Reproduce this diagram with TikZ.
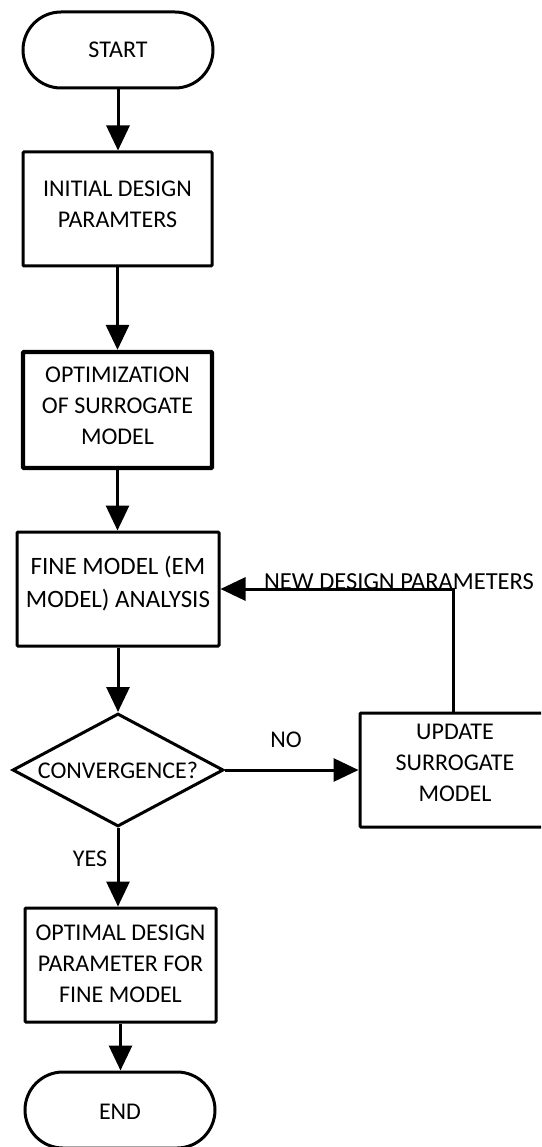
\documentclass[tikz,border=0pt]{standalone}
\usepackage{fontspec}
\setmainfont{Carlito}
\usetikzlibrary{arrows.meta,shapes.geometric}
\begin{document}
\begin{tikzpicture}[x=1pt,y=-1pt,
  every node/.style={font=\fontsize{24}{31}\selectfont, align=center, inner sep=0pt},
  box/.style={draw, line width=3pt, rectangle, rounded corners=1pt},
  term/.style={draw, line width=3pt, rounded corners=38pt},
  arr/.style={line width=3pt, -{Triangle[length=25pt,width=23pt]}},
]
\useasboundingbox (0,0) rectangle (541,1147);
\fill[white] (0,0) rectangle (541,1147);
\clip (0,0) rectangle (541,1147);

\node[term, minimum width=190pt, minimum height=76pt] (start) at (118,50) {START};
\node[box, minimum width=189pt, minimum height=114pt,
  label={[yshift=5pt]center:INITIAL DESIGN\\PARAMTERS}] (init) at (117.5,209) {};
\node[box, line width=4.3pt, minimum width=189pt, minimum height=116pt,
  label={[yshift=4pt]center:OPTIMIZATION\\OF SURROGATE\\MODEL}] (opt) at (117.5,410) {};
\node[box, minimum width=202pt, minimum height=114pt,
  label={[yshift=5pt, font=\fontsize{25}{33}\selectfont]center:FINE MODEL (EM\\MODEL) ANALYSIS}] (fine) at (118,589) {};
\node[draw, diamond, aspect=1.87, line width=3pt, minimum width=211pt, minimum height=113pt,
  label={center:CONVERGENCE?}] (conv) at (118,770) {};
\node[box, minimum width=190pt, minimum height=114pt,
  label={[yshift=7pt]center:UPDATE\\SURROGATE\\MODEL}] (upd) at (455,770) {};
\node[box, minimum width=191pt, minimum height=114pt,
  label={[yshift=1pt]center:OPTIMAL DESIGN\\PARAMETER FOR\\FINE MODEL}] (optimal) at (120.5,965) {};
\node[term, minimum width=190pt, minimum height=76pt,
  label={[yshift=-2pt]center:END}] (end) at (120,1110) {};

\draw[arr] (start.south) -- (start.south |- init.north);
\draw[arr] (init.south) -- (init.south |- opt.north);
\draw[arr] (opt.south) -- (opt.south |- fine.north);
\draw[arr] (fine.south) -- (fine.south |- conv.north);
\draw[arr] (conv.east) -- (upd.west);
\draw[arr] ([xshift=-2pt]upd.north) |- (fine.east);
\draw[arr] (conv.south) -- (conv.south |- optimal.north);
\draw[arr] (optimal.south) -- (optimal.south |- end.north);

\node[anchor=base, font=\fontsize{24.5}{30}\selectfont] (ndp) at (399,589) {NEW DESIGN PARAMETERS};
\node (no) at (286,740) {NO};
\node (yes) at (90,859) {YES};
\end{tikzpicture}
\end{document}
